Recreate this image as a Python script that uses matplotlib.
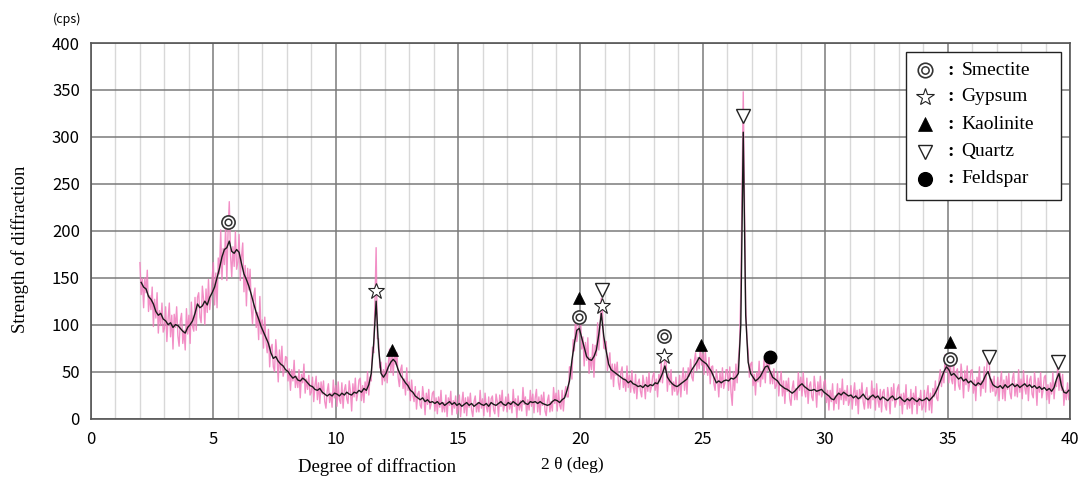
import numpy as np
import matplotlib
matplotlib.use("Agg")
import matplotlib.pyplot as plt
from matplotlib.patches import Rectangle

# ---------------- data ----------------
# smoothed curve (black), samples at deg + 0.05 + 0.1*k, from 2.05 to 39.95
smooth_cps = [
    145,140,138,130,127,122,114,110,112,106,   # 2
    104,100,102,97,100,99,96,93,91,97,         # 3
    100,104,112,122,118,120,125,121,129,134,   # 4
    140,150,160,172,180,182,189,178,176,180,   # 5
    177,165,154,148,141,132,122,113,106,98,    # 6
    92,86,80,70,64,66,61,58,56,52,             # 7
    50,46,43,45,41,40,43,41,38,35,             # 8
    34,31,30,32,28,26,24,26,24,27,             # 9
    26,24,27,25,28,26,25,28,27,30,             # 10
    28,32,30,36,48,80,125,75,48,44,            # 11
    48,55,60,63,60,52,46,42,38,35,             # 12
    30,28,24,22,20,22,18,20,17,18,             # 13
    16,18,15,17,14,16,18,15,17,14,             # 14
    16,13,15,17,14,16,13,15,17,15,             # 15
    14,16,13,17,15,14,16,18,15,14,             # 16
    17,15,18,16,14,17,19,16,15,18,             # 17
    17,18,16,18,16,15,14,15,18,20,             # 18
    19,17,20,22,30,40,62,80,94,96,             # 19
    86,76,66,63,62,66,73,90,112,88,            # 20
    72,58,52,50,48,46,44,42,41,38,             # 21
    40,37,36,34,35,33,36,34,36,35,             # 22
    38,37,42,48,56,44,40,37,35,34,             # 23
    36,38,40,42,47,52,56,60,65,62,             # 24
    60,58,54,50,44,38,40,38,40,41,             # 25
    40,43,42,44,48,100,305,110,60,48,          # 26
    44,40,42,45,50,55,56,50,44,42,             # 27
    40,36,34,32,31,29,27,29,32,35,             # 28
    37,34,32,30,30,31,29,30,31,28,             # 29
    26,24,21,20,24,27,25,28,26,24,             # 30
    25,22,24,21,23,26,22,20,23,25,             # 31
    22,24,20,23,21,19,22,24,20,21,             # 32
    23,20,18,21,19,22,20,18,21,19,             # 33
    20,22,19,22,25,30,36,43,50,55,             # 34
    52,46,48,45,42,44,40,42,38,40,             # 35
    37,35,38,36,40,46,50,42,36,34,             # 36
    33,35,32,36,33,35,37,34,36,33,             # 37
    35,37,34,36,33,35,32,34,31,33,             # 38
    30,32,29,33,42,48,35,28,27,30,             # 39
]

# raw measurement (pink), samples every 0.05 deg from 2.00 to 40.00
raw_cps = [
    166,132,149,118,150,134,158,114,131,116,140,98,127,107,134,91,115,99,123,92,      # 2
    96,119,82,106,123,87,110,74,111,97,119,88,77,104,112,80,94,73,117,90,             # 3
    110,80,124,98,93,129,94,129,134,108,102,141,127,100,138,113,148,116,129,150,      # 4
    166,121,155,118,171,154,201,148,181,164,205,147,199,231,174,151,183,162,199,159,  # 5
    167,196,147,172,187,135,163,120,160,137,159,118,101,131,139,97,113,84,130,90,     # 6
    105,75,108,81,70,95,55,76,79,55,50,84,67,39,73,51,77,45,52,66,                    # 7
    65,40,53,30,52,40,62,33,45,33,52,22,47,38,58,27,42,31,46,25,                      # 8
    28,44,18,35,45,20,38,16,39,26,40,18,11,29,37,17,27,12,41,22,                      # 9
    35,13,39,20,16,38,11,30,36,21,16,40,29,8,37,23,43,19,27,41,                       # 10
    43,19,35,17,39,27,50,25,44,40,76,70,122,182,85,85,54,60,36,52,                    # 11
    40,59,38,59,74,49,69,46,72,58,70,44,34,52,57,32,42,25,54,30,                      # 12
    39,19,41,25,18,34,10,26,29,14,11,34,23,4,27,15,31,10,16,27,                       # 13
    29,8,22,5,23,12,30,7,17,7,25,2,22,14,29,4,19,11,24,5,                             # 14
    10,25,2,17,28,6,22,3,23,12,27,9,2,18,24,7,17,7,30,11,                             # 15
    21,3,27,13,7,23,2,21,24,9,5,26,18,2,25,13,30,8,14,23,                             # 16
    7,26,10,18,6,31,13,21,1,24,9,19,8,33,15,23,3,20,9,30,                             # 17
    13,26,6,22,31,7,23,4,25,14,28,8,3,19,25,7,18,8,33,16,                             # 18
    27,8,30,14,10,30,8,26,34,23,23,55,55,42,84,72,109,82,92,114,                      # 19
    109,74,87,56,81,62,86,48,65,52,79,44,78,67,102,73,98,128,113,75,                  # 20
    74,82,51,62,70,42,58,34,58,46,60,38,31,49,55,33,43,29,56,33,                      # 21
    46,28,51,33,27,47,21,38,42,29,23,46,37,21,44,29,49,28,34,45,                      # 22
    49,30,42,23,47,39,60,38,54,62,60,29,48,36,52,25,39,29,44,25,                      # 23
    29,46,23,42,54,30,48,26,54,45,63,44,40,61,70,51,65,53,80,57,                      # 24
    69,47,73,54,46,65,37,55,56,37,30,52,42,23,49,33,54,32,38,52,                      # 25
    52,30,55,28,14,50,30,58,38,62,80,135,240,348,230,120,85,72,44,58,                 # 26
    60,35,47,25,49,39,61,34,50,42,63,38,62,51,68,37,50,37,53,32,                      # 27
    35,50,24,40,50,24,40,16,40,29,43,21,14,32,40,20,32,20,49,30,                      # 28
    44,24,49,30,23,43,16,35,39,23,19,45,33,12,39,25,45,23,27,39,                      # 29
    41,17,30,9,30,18,37,9,24,16,37,10,32,20,42,15,30,19,35,14,                        # 30
    19,35,10,26,38,14,30,5,31,21,38,18,10,27,33,11,24,11,40,20,                       # 31
    32,9,37,20,12,31,7,28,31,14,9,33,23,5,33,19,37,12,18,32,                          # 32
    36,14,26,5,27,15,36,10,22,11,31,5,27,15,34,5,22,14,30,9,                          # 33
    13,30,7,26,35,9,27,6,32,23,40,22,19,41,52,34,49,38,68,50,                         # 34
    62,38,64,42,37,60,30,50,53,35,31,58,45,22,51,36,56,29,37,51,                      # 35
    52,27,41,19,44,35,55,24,40,32,55,28,54,72,62,28,42,29,45,24,                      # 36
    28,44,19,39,50,21,41,19,45,31,48,27,21,43,49,24,37,23,52,28,                      # 37
    42,21,51,33,26,46,19,41,45,26,22,49,37,14,43,28,49,22,30,44,                      # 38
    46,20,36,16,38,26,49,21,39,34,57,30,48,30,47,14,30,20,38,20,                      # 39
    34,                                                                               # 40
]

smectite_x = [5.58, 19.95, 23.43, 35.1]
smectite_y = [209, 108, 88, 63]
gypsum_x = [11.65, 20.86, 23.43]
gypsum_y = [136, 120, 67]
kaolinite_x = [12.3, 19.95, 24.92, 35.1]
kaolinite_y = [73, 128, 78, 82]
quartz_x = [20.86, 26.65, 36.7, 39.5]
quartz_y = [137, 322, 65, 60]
feldspar_x = [27.74]
feldspar_y = [65]

legend_names = ["Smectite", "Gypsum", "Kaolinite", "Quartz", "Feldspar"]

assert len(smooth_cps) == 380, len(smooth_cps)
assert len(raw_cps) == 761, len(raw_cps)

smooth_x = 2.05 + 0.1 * np.arange(len(smooth_cps))
raw_x = 2.0 + 0.05 * np.arange(len(raw_cps))

# ---------------- figure ----------------
fig = plt.figure(figsize=(10.82, 4.79), dpi=100)
ax = fig.add_axes([0.0841, 0.1263, 0.9048, 0.7839])

ax.set_xlim(0, 40)
ax.set_ylim(0, 400)
ax.set_xticks(np.arange(0, 41, 5))
ax.set_xticks(np.arange(0, 41, 1), minor=True)
ax.set_yticks(np.arange(0, 401, 50))
ax.grid(which="minor", axis="x", color="#d8d8d8", lw=1.0, zorder=0)
ax.grid(which="major", axis="x", color="#7a7a7a", lw=1.1, zorder=0)
ax.grid(which="major", axis="y", color="#7a7a7a", lw=1.1, zorder=0)
for s in ax.spines.values():
    s.set_color("#555555")
    s.set_linewidth(1.2)
ax.tick_params(which="both", length=0)
ax.tick_params(axis="y", pad=8)
ax.tick_params(axis="x", pad=9)
for lab in ax.get_xticklabels() + ax.get_yticklabels():
    lab.set_fontfamily(["Noto Sans CJK JP", "DejaVu Sans"])
    lab.set_fontsize(12)

ax.plot(raw_x, raw_cps, color="#f07cbc", lw=1.0, alpha=0.85, zorder=2)
ax.plot(smooth_x, smooth_cps, color="#1a1a1a", lw=1.0, zorder=3)

def draw_smectite(x, y, scale=1.0, **kw):
    ax.plot(x, y, ls="none", marker="o", ms=9.5 * scale, mfc="white", mec="#333333", mew=1.2, zorder=5, **kw)
    ax.plot(x, y, ls="none", marker="o", ms=4.8 * scale, mfc="none", mec="#333333", mew=1.1, zorder=6, **kw)

def draw_gypsum(x, y, scale=1.0, **kw):
    ax.plot(x, y, ls="none", marker="*", ms=12 * scale, mfc="white", mec="#222222", mew=0.8, zorder=5, **kw)

def draw_kaolinite(x, y, scale=1.0, **kw):
    ax.plot(x, y, ls="none", marker="^", ms=9 * scale, mfc="black", mec="black", mew=0.5, zorder=5, **kw)

def draw_quartz(x, y, scale=1.0, **kw):
    ax.plot(x, y, ls="none", marker="v", ms=9.5 * scale, mfc="white", mec="#222222", mew=1.0, zorder=5, **kw)

def draw_feldspar(x, y, scale=1.0, **kw):
    ax.plot(x, y, ls="none", marker="o", ms=9 * scale, mfc="black", mec="black", zorder=5, **kw)

draw_smectite(smectite_x, smectite_y)
draw_gypsum(gypsum_x, gypsum_y)
draw_kaolinite(kaolinite_x, kaolinite_y)
draw_quartz(quartz_x, quartz_y)
draw_feldspar(feldspar_x, feldspar_y)

# legend box
ax.add_patch(Rectangle((0.8325, 0.582), 0.1583, 0.394, transform=ax.transAxes,
                       facecolor="white", edgecolor="#222222", lw=1.0, zorder=7))
row_y = [0.928, 0.857, 0.784, 0.711, 0.638]
drawers = [draw_smectite, draw_gypsum, draw_kaolinite, draw_quartz, draw_feldspar]
for name, yy, fn in zip(legend_names, row_y, drawers):
    n0 = len(ax.lines)
    fn([0.852], [yy], scale=1.1, transform=ax.transAxes, clip_on=False)
    for ln in ax.lines[n0:]:
        ln.set_zorder(9)
    ax.text(0.8785, yy, ":", transform=ax.transAxes, ha="center", va="center",
            fontsize=14, fontweight="bold", family="Liberation Serif", zorder=9)
    ax.text(0.889, yy, name, transform=ax.transAxes, ha="left", va="center",
            fontsize=14, family="Liberation Serif", zorder=9)

# labels
fig.text(20 / 1082, 1 - 249 / 479, "Strength of diffraction", rotation=90,
         ha="center", va="center", fontsize=13.5, family="Liberation Serif")
fig.text(377 / 1082, 1 - 467 / 479, "Degree of diffraction", ha="center", va="center",
         fontsize=13.5, family="Liberation Serif")
fig.text(541 / 1082, 1 - 465 / 479, "2 θ (deg)", ha="left", va="center",
         fontsize=12.5, family="Liberation Serif")
fig.text(67 / 1082, 1 - 19 / 479, "(cps)", ha="center", va="center",
         fontsize=9, family=["Noto Sans CJK JP", "DejaVu Sans"])

fig.savefig("out.png", dpi=100)
